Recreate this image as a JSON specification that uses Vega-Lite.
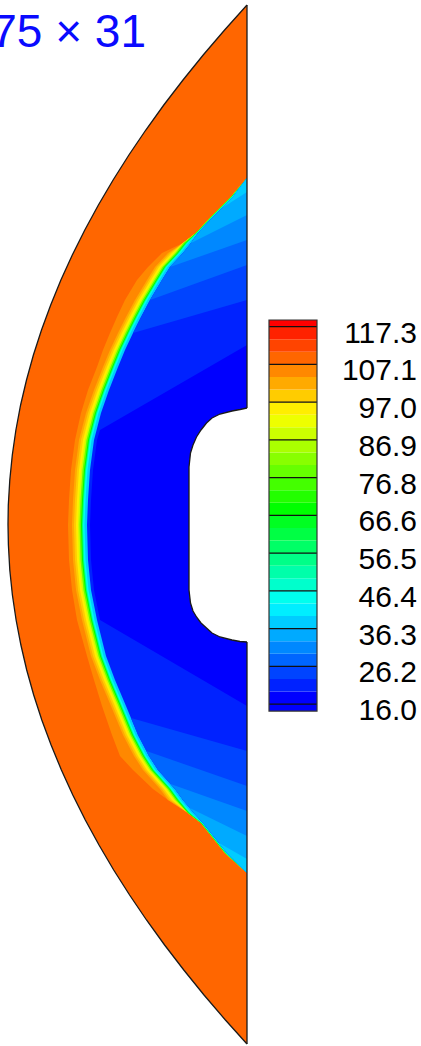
{
"$schema":"https://vega.github.io/schema/vega-lite/v6.json",
"width":421,"height":1046,
"autosize":{"type":"none"},
"padding":0,
"background":"white",
"config":{"view":{"stroke":null}},
"datasets":{
"arc":[{"y":5,"x":247},{"y":30,"x":224.6},{"y":55,"x":203.2},{"y":80,"x":183.0},{"y":105,"x":163.8},{"y":130,"x":145.8},{"y":155,"x":128.9},{"y":180,"x":113.1},{"y":205,"x":98.4},{"y":230,"x":84.8},{"y":255,"x":72.3},{"y":280,"x":60.9},{"y":305,"x":50.7},{"y":330,"x":41.5},{"y":355,"x":33.4},{"y":380,"x":26.5},{"y":405,"x":20.6},{"y":430,"x":15.9},{"y":455,"x":12.3},{"y":480,"x":9.8},{"y":505,"x":8.3},{"y":524.5,"x":8.0},{"y":545,"x":8.4},{"y":570,"x":9.8},{"y":595,"x":12.4},{"y":620,"x":16.1},{"y":645,"x":20.9},{"y":670,"x":26.7},{"y":695,"x":33.7},{"y":720,"x":41.8},{"y":745,"x":51.1},{"y":770,"x":61.4},{"y":795,"x":72.8},{"y":820,"x":85.3},{"y":845,"x":99.0},{"y":870,"x":113.7},{"y":895,"x":129.6},{"y":920,"x":146.5},{"y":945,"x":164.6},{"y":970,"x":183.8},{"y":995,"x":204.0},{"y":1020,"x":225.4},{"y":1044,"x":247}],
"bands":[
{"y":178,"xo":247,"e100":247,"e97":247,"e94":247,"e87":247,"e77":247,"e67":247,"e53":247,"e43":247,"e36":247,"xb":247},
{"y":197,"xo":231,"e100":231,"e97":231,"e94":231,"e87":231,"e77":231,"e67":231,"e53":231.5,"e43":232,"e36":232.5,"xb":233},
{"y":217,"xo":211,"e100":211,"e97":211,"e94":211,"e87":211,"e77":211,"e67":211,"e53":211.5,"e43":212,"e36":212.5,"xb":213},
{"y":233,"xo":196,"e100":196,"e97":196,"e94":196,"e87":196,"e77":196,"e67":196,"e53":196.5,"e43":197,"e36":197.5,"xb":198},
{"y":243,"xo":183,"e100":183,"e97":183,"e94":183,"e87":183,"e77":183.5,"e67":185,"e53":186,"e43":187,"e36":188.5,"xb":191},
{"y":253,"xo":162,"e100":168,"e97":170,"e94":172,"e87":174,"e77":175.5,"e67":177,"e53":178,"e43":179,"e36":180.5,"xb":183},
{"y":267,"xo":148,"e100":155,"e97":157,"e94":159,"e87":161,"e77":162.5,"e67":164,"e53":165,"e43":166,"e36":167.5,"xb":170},
{"y":280,"xo":137,"e100":147,"e97":149,"e94":151,"e87":153,"e77":154.5,"e67":156,"e53":157,"e43":158,"e36":159.5,"xb":162},
{"y":300,"xo":125,"e100":135,"e97":137,"e94":139,"e87":141,"e77":142.5,"e67":144,"e53":145,"e43":146,"e36":147.5,"xb":150},
{"y":317,"xo":117,"e100":126,"e97":128,"e94":130,"e87":132,"e77":133.5,"e67":135,"e53":136,"e43":137,"e36":138.5,"xb":141},
{"y":333,"xo":110,"e100":118,"e97":120,"e94":122,"e87":124,"e77":125.5,"e67":127,"e53":128,"e43":129,"e36":130.5,"xb":133},
{"y":350,"xo":103,"e100":110,"e97":112,"e94":114,"e87":116,"e77":117.5,"e67":119,"e53":120,"e43":121,"e36":122.5,"xb":125},
{"y":367,"xo":97,"e100":103,"e97":105,"e94":107,"e87":109,"e77":110.5,"e67":112,"e53":113,"e43":114,"e36":115.5,"xb":118},
{"y":390,"xo":88,"e100":94,"e97":96,"e94":98,"e87":100,"e77":101.5,"e67":103,"e53":104,"e43":105,"e36":106.5,"xb":109},
{"y":413,"xo":81,"e100":86,"e97":88,"e94":90,"e87":92,"e77":93.5,"e67":95,"e53":96,"e43":97,"e36":98.5,"xb":101},
{"y":440,"xo":75,"e100":79,"e97":81,"e94":83,"e87":85,"e77":86.5,"e67":88,"e53":89,"e43":90,"e36":91.5,"xb":94},
{"y":470,"xo":71,"e100":75,"e97":77,"e94":79,"e87":81,"e77":82.5,"e67":84,"e53":85,"e43":86,"e36":87.5,"xb":90},
{"y":500,"xo":69,"e100":73,"e97":75,"e94":77,"e87":79,"e77":80.5,"e67":82,"e53":83,"e43":84,"e36":85.5,"xb":88},
{"y":525,"xo":68,"e100":72,"e97":74,"e94":76,"e87":78,"e77":79.5,"e67":81,"e53":82,"e43":83,"e36":84.5,"xb":87},
{"y":560,"xo":69,"e100":73,"e97":75,"e94":77,"e87":79,"e77":80.5,"e67":82,"e53":83,"e43":84,"e36":85.5,"xb":88},
{"y":590,"xo":72,"e100":76,"e97":78,"e94":80,"e87":82,"e77":83.5,"e67":85,"e53":86,"e43":87,"e36":88.5,"xb":91},
{"y":620,"xo":77,"e100":82,"e97":84,"e94":86,"e87":88,"e77":89.5,"e67":91,"e53":92,"e43":93,"e36":94.5,"xb":97},
{"y":656,"xo":87,"e100":91,"e97":93,"e94":95,"e87":97,"e77":98.5,"e67":100,"e53":101,"e43":102,"e36":103.5,"xb":106},
{"y":680,"xo":94,"e100":100,"e97":102,"e94":104,"e87":106,"e77":107.5,"e67":109,"e53":110,"e43":111,"e36":112.5,"xb":115},
{"y":706,"xo":102,"e100":111,"e97":113,"e94":115,"e87":117,"e77":118.5,"e67":120,"e53":121,"e43":122,"e36":123.5,"xb":126},
{"y":735,"xo":112,"e100":123,"e97":125,"e94":127,"e87":129,"e77":130.5,"e67":132,"e53":133,"e43":134,"e36":135.5,"xb":138},
{"y":756,"xo":120,"e100":134,"e97":136,"e94":138,"e87":140,"e77":141.5,"e67":143,"e53":144,"e43":145,"e36":146.5,"xb":149},
{"y":770,"xo":133,"e100":143,"e97":145,"e94":147,"e87":149,"e77":150.5,"e67":152,"e53":153,"e43":154,"e36":155.5,"xb":158},
{"y":789,"xo":153,"e100":160,"e97":162,"e94":164,"e87":166,"e77":167.5,"e67":169,"e53":170,"e43":171,"e36":172.5,"xb":175},
{"y":800,"xo":168,"e100":168,"e97":170,"e94":172,"e87":174,"e77":175.5,"e67":177,"e53":178,"e43":179,"e36":180.5,"xb":183},
{"y":813,"xo":188,"e100":188,"e97":188,"e94":188,"e87":188,"e77":188,"e67":188,"e53":189,"e43":190,"e36":191.5,"xb":194},
{"y":823,"xo":201,"e100":201,"e97":201,"e94":201,"e87":201,"e77":201,"e67":201,"e53":201.5,"e43":202,"e36":202.5,"xb":203},
{"y":853,"xo":225,"e100":225,"e97":225,"e94":225,"e87":225,"e77":225,"e67":225,"e53":225.5,"e43":226,"e36":226.5,"xb":227},
{"y":873,"xo":247,"e100":247,"e97":247,"e94":247,"e87":247,"e77":247,"e67":247,"e53":247,"e43":247,"e36":247,"xb":247}
],
"regions":[
{"r":"t22","v":22.75,"y":178,"xl":247,"xr":247},{"r":"t22","v":22.75,"y":197,"xl":233,"xr":247},{"r":"t22","v":22.75,"y":217,"xl":213,"xr":247},{"r":"t22","v":22.75,"y":233,"xl":198,"xr":247},{"r":"t22","v":22.75,"y":243,"xl":191,"xr":247},{"r":"t22","v":22.75,"y":253,"xl":183,"xr":247},{"r":"t22","v":22.75,"y":267,"xl":170,"xr":247},{"r":"t22","v":22.75,"y":280,"xl":162,"xr":247},{"r":"t22","v":22.75,"y":300,"xl":150,"xr":247},{"r":"t22","v":22.75,"y":317,"xl":141,"xr":188.3},{"r":"t22","v":22.75,"y":333,"xl":133,"xr":133},
{"r":"b22","v":22.75,"y":718,"xl":131,"xr":131},{"r":"b22","v":22.75,"y":735,"xl":138,"xr":190.8},{"r":"b22","v":22.75,"y":751,"xl":146.4,"xr":247},{"r":"b22","v":22.75,"y":756,"xl":149,"xr":247},{"r":"b22","v":22.75,"y":770,"xl":158,"xr":247},{"r":"b22","v":22.75,"y":789,"xl":175,"xr":247},{"r":"b22","v":22.75,"y":800,"xl":183,"xr":247},{"r":"b22","v":22.75,"y":813,"xl":194,"xr":247},{"r":"b22","v":22.75,"y":823,"xl":203,"xr":247},{"r":"b22","v":22.75,"y":853,"xl":227,"xr":247},{"r":"b22","v":22.75,"y":873,"xl":247,"xr":247},
{"r":"t26","v":26.13,"y":178,"xl":247,"xr":247},{"r":"t26","v":26.13,"y":197,"xl":233,"xr":247},{"r":"t26","v":26.13,"y":217,"xl":213,"xr":247},{"r":"t26","v":26.13,"y":233,"xl":198,"xr":247},{"r":"t26","v":26.13,"y":243,"xl":191,"xr":247},{"r":"t26","v":26.13,"y":253,"xl":183,"xr":247},{"r":"t26","v":26.13,"y":265,"xl":171.9,"xr":247},{"r":"t26","v":26.13,"y":267,"xl":170,"xr":241.5},{"r":"t26","v":26.13,"y":280,"xl":162,"xr":205.4},{"r":"t26","v":26.13,"y":300,"xl":150,"xr":150},
{"r":"b26","v":26.13,"y":751,"xl":146.4,"xr":146.4},{"r":"b26","v":26.13,"y":756,"xl":149,"xr":160.8},{"r":"b26","v":26.13,"y":770,"xl":158,"xr":201.0},{"r":"b26","v":26.13,"y":786,"xl":172.3,"xr":247},{"r":"b26","v":26.13,"y":789,"xl":175,"xr":247},{"r":"b26","v":26.13,"y":800,"xl":183,"xr":247},{"r":"b26","v":26.13,"y":813,"xl":194,"xr":247},{"r":"b26","v":26.13,"y":823,"xl":203,"xr":247},{"r":"b26","v":26.13,"y":853,"xl":227,"xr":247},{"r":"b26","v":26.13,"y":873,"xl":247,"xr":247},
{"r":"t29","v":29.51,"y":178,"xl":247,"xr":247},{"r":"t29","v":29.51,"y":197,"xl":233,"xr":247},{"r":"t29","v":29.51,"y":217,"xl":213,"xr":247},{"r":"t29","v":29.51,"y":233,"xl":198,"xr":247},{"r":"t29","v":29.51,"y":240,"xl":193.1,"xr":247},{"r":"t29","v":29.51,"y":243,"xl":191,"xr":238.4},{"r":"t29","v":29.51,"y":253,"xl":183,"xr":209.9},{"r":"t29","v":29.51,"y":267,"xl":170,"xr":170},
{"r":"b29","v":29.51,"y":784,"xl":170.5,"xr":170.5},{"r":"b29","v":29.51,"y":789,"xl":175,"xr":184.7},{"r":"b29","v":29.51,"y":800,"xl":183,"xr":215.8},{"r":"b29","v":29.51,"y":811,"xl":192.3,"xr":247},{"r":"b29","v":29.51,"y":813,"xl":194,"xr":247},{"r":"b29","v":29.51,"y":823,"xl":203,"xr":247},{"r":"b29","v":29.51,"y":853,"xl":227,"xr":247},{"r":"b29","v":29.51,"y":873,"xl":247,"xr":247},
{"r":"t33","v":32.88,"y":178,"xl":247,"xr":247},{"r":"t33","v":32.88,"y":197,"xl":233,"xr":247},{"r":"t33","v":32.88,"y":215,"xl":215,"xr":247},{"r":"t33","v":32.88,"y":217,"xl":213,"xr":243},{"r":"t33","v":32.88,"y":233,"xl":198,"xr":211},{"r":"t33","v":32.88,"y":243,"xl":191,"xr":191},
{"r":"b33","v":32.88,"y":808,"xl":189.8,"xr":189.8},{"r":"b33","v":32.88,"y":813,"xl":194,"xr":200.0},{"r":"b33","v":32.88,"y":823,"xl":203,"xr":220.4},{"r":"b33","v":32.88,"y":836,"xl":213.4,"xr":247},{"r":"b33","v":32.88,"y":853,"xl":227,"xr":247},{"r":"b33","v":32.88,"y":873,"xl":247,"xr":247},
{"r":"t36","v":36.26,"y":178,"xl":247,"xr":247},{"r":"t36","v":36.26,"y":192,"xl":236.7,"xr":247},{"r":"t36","v":36.26,"y":197,"xl":233,"xr":239.2},{"r":"t36","v":36.26,"y":208,"xl":222,"xr":222},
{"r":"b36","v":36.26,"y":843,"xl":219,"xr":219},{"r":"b36","v":36.26,"y":853,"xl":227,"xr":236.5},{"r":"b36","v":36.26,"y":859,"xl":233,"xr":247},{"r":"b36","v":36.26,"y":873,"xl":247,"xr":247},
{"r":"core","v":16,"y":345,"xl":247,"xr":247},{"r":"core","v":16,"y":367,"xl":209,"xr":247},{"r":"core","v":16,"y":390,"xl":169.2,"xr":247},{"r":"core","v":16,"y":413,"xl":129.4,"xr":247},{"r":"core","v":16,"y":430,"xl":100,"xr":247},{"r":"core","v":16,"y":440,"xl":97,"xr":247},{"r":"core","v":16,"y":470,"xl":93,"xr":247},{"r":"core","v":16,"y":500,"xl":91,"xr":247},{"r":"core","v":16,"y":525,"xl":90,"xr":247},{"r":"core","v":16,"y":560,"xl":91,"xr":247},{"r":"core","v":16,"y":590,"xl":94,"xr":247},{"r":"core","v":16,"y":620,"xl":100,"xr":247},{"r":"core","v":16,"y":640,"xl":134.2,"xr":247},{"r":"core","v":16,"y":660,"xl":168.4,"xr":247},{"r":"core","v":16,"y":680,"xl":202.6,"xr":247},{"r":"core","v":16,"y":706,"xl":247,"xr":247}
],
"body":[{"y":408,"x":247},{"y":409.5,"x":240},{"y":411,"x":232},{"y":414,"x":220},{"y":418,"x":212},{"y":423,"x":206.5},{"y":430,"x":201},{"y":437,"x":196.5},{"y":445,"x":193},{"y":453,"x":190.5},{"y":467,"x":189},{"y":590,"x":189},{"y":603,"x":190.5},{"y":611,"x":193},{"y":617,"x":196.5},{"y":623,"x":201},{"y":628,"x":206.5},{"y":633,"x":212},{"y":637,"x":220},{"y":640,"x":232},{"y":641.5,"x":240},{"y":642,"x":247}],
"walls":[{"y1":5,"y2":408},{"y1":642,"y2":1044}],
"cbar":[{"lo":14.1,"hi":16,"v":16},{"lo":16,"hi":19.38,"v":16},{"lo":19.38,"hi":22.75,"v":19.38},{"lo":22.75,"hi":26.13,"v":22.75},{"lo":26.13,"hi":29.51,"v":26.13},{"lo":29.51,"hi":32.88,"v":29.51},{"lo":32.88,"hi":36.26,"v":32.88},{"lo":36.26,"hi":39.64,"v":36.26},{"lo":39.64,"hi":43.01,"v":39.64},{"lo":43.01,"hi":46.39,"v":43.01},{"lo":46.39,"hi":49.77,"v":46.39},{"lo":49.77,"hi":53.14,"v":49.77},{"lo":53.14,"hi":56.52,"v":53.14},{"lo":56.52,"hi":59.9,"v":56.52},{"lo":59.9,"hi":63.27,"v":59.9},{"lo":63.27,"hi":66.65,"v":63.27},{"lo":66.65,"hi":70.03,"v":66.65},{"lo":70.03,"hi":73.4,"v":70.03},{"lo":73.4,"hi":76.78,"v":73.4},{"lo":76.78,"hi":80.16,"v":76.78},{"lo":80.16,"hi":83.53,"v":80.16},{"lo":83.53,"hi":86.91,"v":83.53},{"lo":86.91,"hi":90.29,"v":86.91},{"lo":90.29,"hi":93.66,"v":90.29},{"lo":93.66,"hi":97.04,"v":93.66},{"lo":97.04,"hi":100.42,"v":97.04},{"lo":100.42,"hi":103.79,"v":100.42},{"lo":103.79,"hi":107.17,"v":103.79},{"lo":107.17,"hi":110.55,"v":107.17},{"lo":110.55,"hi":113.92,"v":110.55},{"lo":113.92,"hi":117.3,"v":113.92},{"lo":117.3,"hi":119.1,"v":117.3}],
"levels":[{"val":117.3,"lab":"117.3"},{"val":107.17,"lab":"107.1"},{"val":97.04,"lab":"97.0"},{"val":86.91,"lab":"86.9"},{"val":76.78,"lab":"76.8"},{"val":66.65,"lab":"66.6"},{"val":56.52,"lab":"56.5"},{"val":46.39,"lab":"46.4"},{"val":36.26,"lab":"36.3"},{"val":26.13,"lab":"26.2"},{"val":16,"lab":"16.0"}]
},
"resolve":{"scale":{"y":"independent"}},
"layer":[
{
"encoding":{"y":{"field":"y","type":"quantitative","scale":{"domain":[0,1046],"reverse":true,"nice":false,"zero":false},"axis":null}},
"layer":[
{"data":{"name":"arc"},"mark":{"type":"area","orient":"horizontal"},"encoding":{"x":{"field":"x","type":"quantitative","scale":{"domain":[0,421],"nice":false,"zero":false},"axis":null,"stack":null},"x2":{"datum":247},"color":{"datum":107.17,"type":"quantitative","scale":{"domain":[16,41.325,66.65,91.975,117.3],"range":["#0000ff","#00ffff","#00ff00","#ffff00","#ff0000"],"interpolate":"rgb"},"legend":null}}},
{"data":{"name":"bands"},"mark":{"type":"area","orient":"horizontal"},"encoding":{"x":{"field":"xo","type":"quantitative","scale":{"domain":[0,421],"nice":false,"zero":false},"axis":null,"stack":null},"x2":{"datum":247},"color":{"datum":103.79,"type":"quantitative","scale":{"domain":[16,41.325,66.65,91.975,117.3],"range":["#0000ff","#00ffff","#00ff00","#ffff00","#ff0000"],"interpolate":"rgb"},"legend":null}}},
{"data":{"name":"bands"},"mark":{"type":"area","orient":"horizontal"},"encoding":{"x":{"field":"e100","type":"quantitative","scale":{"domain":[0,421],"nice":false,"zero":false},"axis":null,"stack":null},"x2":{"datum":247},"color":{"datum":100.42,"type":"quantitative","scale":{"domain":[16,41.325,66.65,91.975,117.3],"range":["#0000ff","#00ffff","#00ff00","#ffff00","#ff0000"],"interpolate":"rgb"},"legend":null}}},
{"data":{"name":"bands"},"mark":{"type":"area","orient":"horizontal"},"encoding":{"x":{"field":"e97","type":"quantitative","scale":{"domain":[0,421],"nice":false,"zero":false},"axis":null,"stack":null},"x2":{"datum":247},"color":{"datum":97.04,"type":"quantitative","scale":{"domain":[16,41.325,66.65,91.975,117.3],"range":["#0000ff","#00ffff","#00ff00","#ffff00","#ff0000"],"interpolate":"rgb"},"legend":null}}},
{"data":{"name":"bands"},"mark":{"type":"area","orient":"horizontal"},"encoding":{"x":{"field":"e94","type":"quantitative","scale":{"domain":[0,421],"nice":false,"zero":false},"axis":null,"stack":null},"x2":{"datum":247},"color":{"datum":93.66,"type":"quantitative","scale":{"domain":[16,41.325,66.65,91.975,117.3],"range":["#0000ff","#00ffff","#00ff00","#ffff00","#ff0000"],"interpolate":"rgb"},"legend":null}}},
{"data":{"name":"bands"},"mark":{"type":"area","orient":"horizontal"},"encoding":{"x":{"field":"e87","type":"quantitative","scale":{"domain":[0,421],"nice":false,"zero":false},"axis":null,"stack":null},"x2":{"datum":247},"color":{"datum":86.91,"type":"quantitative","scale":{"domain":[16,41.325,66.65,91.975,117.3],"range":["#0000ff","#00ffff","#00ff00","#ffff00","#ff0000"],"interpolate":"rgb"},"legend":null}}},
{"data":{"name":"bands"},"mark":{"type":"area","orient":"horizontal"},"encoding":{"x":{"field":"e77","type":"quantitative","scale":{"domain":[0,421],"nice":false,"zero":false},"axis":null,"stack":null},"x2":{"datum":247},"color":{"datum":76.78,"type":"quantitative","scale":{"domain":[16,41.325,66.65,91.975,117.3],"range":["#0000ff","#00ffff","#00ff00","#ffff00","#ff0000"],"interpolate":"rgb"},"legend":null}}},
{"data":{"name":"bands"},"mark":{"type":"area","orient":"horizontal"},"encoding":{"x":{"field":"e67","type":"quantitative","scale":{"domain":[0,421],"nice":false,"zero":false},"axis":null,"stack":null},"x2":{"datum":247},"color":{"datum":66.65,"type":"quantitative","scale":{"domain":[16,41.325,66.65,91.975,117.3],"range":["#0000ff","#00ffff","#00ff00","#ffff00","#ff0000"],"interpolate":"rgb"},"legend":null}}},
{"data":{"name":"bands"},"mark":{"type":"area","orient":"horizontal"},"encoding":{"x":{"field":"e53","type":"quantitative","scale":{"domain":[0,421],"nice":false,"zero":false},"axis":null,"stack":null},"x2":{"datum":247},"color":{"datum":53.14,"type":"quantitative","scale":{"domain":[16,41.325,66.65,91.975,117.3],"range":["#0000ff","#00ffff","#00ff00","#ffff00","#ff0000"],"interpolate":"rgb"},"legend":null}}},
{"data":{"name":"bands"},"mark":{"type":"area","orient":"horizontal"},"encoding":{"x":{"field":"e43","type":"quantitative","scale":{"domain":[0,421],"nice":false,"zero":false},"axis":null,"stack":null},"x2":{"datum":247},"color":{"datum":43.01,"type":"quantitative","scale":{"domain":[16,41.325,66.65,91.975,117.3],"range":["#0000ff","#00ffff","#00ff00","#ffff00","#ff0000"],"interpolate":"rgb"},"legend":null}}},
{"data":{"name":"bands"},"mark":{"type":"area","orient":"horizontal"},"encoding":{"x":{"field":"e36","type":"quantitative","scale":{"domain":[0,421],"nice":false,"zero":false},"axis":null,"stack":null},"x2":{"datum":247},"color":{"datum":36.26,"type":"quantitative","scale":{"domain":[16,41.325,66.65,91.975,117.3],"range":["#0000ff","#00ffff","#00ff00","#ffff00","#ff0000"],"interpolate":"rgb"},"legend":null}}},
{"data":{"name":"bands"},"mark":{"type":"area","orient":"horizontal"},"encoding":{"x":{"field":"xb","type":"quantitative","scale":{"domain":[0,421],"nice":false,"zero":false},"axis":null,"stack":null},"x2":{"datum":247},"color":{"datum":19.38,"type":"quantitative","scale":{"domain":[16,41.325,66.65,91.975,117.3],"range":["#0000ff","#00ffff","#00ff00","#ffff00","#ff0000"],"interpolate":"rgb"},"legend":null}}},
{"data":{"name":"regions"},"transform":[{"filter":"datum.v == 22.75"}],"mark":{"type":"area","orient":"horizontal"},"encoding":{"x":{"field":"xl","type":"quantitative","scale":{"domain":[0,421],"nice":false,"zero":false},"axis":null,"stack":null},"x2":{"field":"xr"},"detail":{"field":"r","type":"nominal"},"color":{"field":"v","type":"quantitative","scale":{"domain":[16,41.325,66.65,91.975,117.3],"range":["#0000ff","#00ffff","#00ff00","#ffff00","#ff0000"],"interpolate":"rgb"},"legend":null}}},
{"data":{"name":"regions"},"transform":[{"filter":"datum.v == 26.13"}],"mark":{"type":"area","orient":"horizontal"},"encoding":{"x":{"field":"xl","type":"quantitative","scale":{"domain":[0,421],"nice":false,"zero":false},"axis":null,"stack":null},"x2":{"field":"xr"},"detail":{"field":"r","type":"nominal"},"color":{"field":"v","type":"quantitative","scale":{"domain":[16,41.325,66.65,91.975,117.3],"range":["#0000ff","#00ffff","#00ff00","#ffff00","#ff0000"],"interpolate":"rgb"},"legend":null}}},
{"data":{"name":"regions"},"transform":[{"filter":"datum.v == 29.51"}],"mark":{"type":"area","orient":"horizontal"},"encoding":{"x":{"field":"xl","type":"quantitative","scale":{"domain":[0,421],"nice":false,"zero":false},"axis":null,"stack":null},"x2":{"field":"xr"},"detail":{"field":"r","type":"nominal"},"color":{"field":"v","type":"quantitative","scale":{"domain":[16,41.325,66.65,91.975,117.3],"range":["#0000ff","#00ffff","#00ff00","#ffff00","#ff0000"],"interpolate":"rgb"},"legend":null}}},
{"data":{"name":"regions"},"transform":[{"filter":"datum.v == 32.88"}],"mark":{"type":"area","orient":"horizontal"},"encoding":{"x":{"field":"xl","type":"quantitative","scale":{"domain":[0,421],"nice":false,"zero":false},"axis":null,"stack":null},"x2":{"field":"xr"},"detail":{"field":"r","type":"nominal"},"color":{"field":"v","type":"quantitative","scale":{"domain":[16,41.325,66.65,91.975,117.3],"range":["#0000ff","#00ffff","#00ff00","#ffff00","#ff0000"],"interpolate":"rgb"},"legend":null}}},
{"data":{"name":"regions"},"transform":[{"filter":"datum.v == 36.26"}],"mark":{"type":"area","orient":"horizontal"},"encoding":{"x":{"field":"xl","type":"quantitative","scale":{"domain":[0,421],"nice":false,"zero":false},"axis":null,"stack":null},"x2":{"field":"xr"},"detail":{"field":"r","type":"nominal"},"color":{"field":"v","type":"quantitative","scale":{"domain":[16,41.325,66.65,91.975,117.3],"range":["#0000ff","#00ffff","#00ff00","#ffff00","#ff0000"],"interpolate":"rgb"},"legend":null}}},
{"data":{"name":"regions"},"transform":[{"filter":"datum.r == 'core'"}],"mark":{"type":"area","orient":"horizontal"},"encoding":{"x":{"field":"xl","type":"quantitative","scale":{"domain":[0,421],"nice":false,"zero":false},"axis":null,"stack":null},"x2":{"field":"xr"},"color":{"field":"v","type":"quantitative","scale":{"domain":[16,41.325,66.65,91.975,117.3],"range":["#0000ff","#00ffff","#00ff00","#ffff00","#ff0000"],"interpolate":"rgb"},"legend":null}}},
{"data":{"name":"body"},"mark":{"type":"area","orient":"horizontal","color":"white"},"encoding":{"x":{"field":"x","type":"quantitative","scale":{"domain":[0,421],"nice":false,"zero":false},"axis":null,"stack":null},"x2":{"datum":249}}},
{"data":{"name":"arc"},"mark":{"type":"line","color":"#1a1a1a","strokeWidth":1.3},"encoding":{"x":{"field":"x","type":"quantitative","scale":{"domain":[0,421],"nice":false,"zero":false},"axis":null},"order":{"field":"y","type":"quantitative"}}},
{"data":{"name":"body"},"mark":{"type":"line","color":"#1a1a1a","strokeWidth":1.3},"encoding":{"x":{"field":"x","type":"quantitative","scale":{"domain":[0,421],"nice":false,"zero":false},"axis":null},"order":{"field":"y","type":"quantitative"}}},
{"data":{"name":"walls"},"mark":{"type":"rule","color":"#1a1a1a","strokeWidth":1.3},"encoding":{"x":{"datum":247,"scale":{"domain":[0,421],"nice":false,"zero":false},"axis":null},"y":{"field":"y1","type":"quantitative","axis":null},"y2":{"field":"y2"}}}
]
},
{
"layer":[
{"data":{"name":"cbar"},"mark":{"type":"rect","strokeWidth":0},"encoding":{"y":{"field":"lo","type":"quantitative","scale":{"domain":[-75.8,205],"nice":false,"zero":false},"axis":null},"y2":{"field":"hi"},"x":{"datum":269,"scale":{"domain":[0,421],"nice":false,"zero":false},"axis":null},"x2":{"datum":317},"color":{"field":"v","type":"quantitative","scale":{"domain":[16,41.325,66.65,91.975,117.3],"range":["#0000ff","#00ffff","#00ff00","#ffff00","#ff0000"],"interpolate":"rgb"},"legend":null}}},
{"data":{"name":"levels"},"mark":{"type":"rule","color":"#111111","strokeWidth":1.3},"encoding":{"y":{"field":"val","type":"quantitative","scale":{"domain":[-75.8,205],"nice":false,"zero":false},"axis":null},"x":{"datum":269,"scale":{"domain":[0,421],"nice":false,"zero":false},"axis":null},"x2":{"datum":317}}},
{"data":{"name":"cbar"},"mark":{"type":"rect","fill":null,"fillOpacity":0,"stroke":"#333333","strokeWidth":1.2},"encoding":{"y":{"aggregate":"min","field":"lo","type":"quantitative","scale":{"domain":[-75.8,205],"nice":false,"zero":false},"axis":null},"y2":{"aggregate":"max","field":"hi"},"x":{"datum":269,"scale":{"domain":[0,421],"nice":false,"zero":false},"axis":null},"x2":{"datum":317}}},
{"data":{"name":"levels"},"mark":{"type":"text","align":"right","baseline":"middle","dy":7,"font":"Liberation Sans","fontSize":30,"color":"#000000"},"encoding":{"y":{"field":"val","type":"quantitative","scale":{"domain":[-75.8,205],"nice":false,"zero":false},"axis":null},"x":{"datum":417,"scale":{"domain":[0,421],"nice":false,"zero":false},"axis":null},"text":{"field":"lab"}}}
]
},
{"data":{"values":[{"caption":"75 × 31"}]},"mark":{"type":"text","align":"right","baseline":"alphabetic","font":"Liberation Sans","fontSize":46,"color":"#0a0aff"},"encoding":{"x":{"datum":146,"type":"quantitative","scale":{"domain":[0,421],"nice":false,"zero":false},"axis":null},"y":{"datum":47,"type":"quantitative","scale":{"domain":[0,1046],"reverse":true,"nice":false,"zero":false},"axis":null},"text":{"field":"caption","type":"nominal"}}}
]
}
